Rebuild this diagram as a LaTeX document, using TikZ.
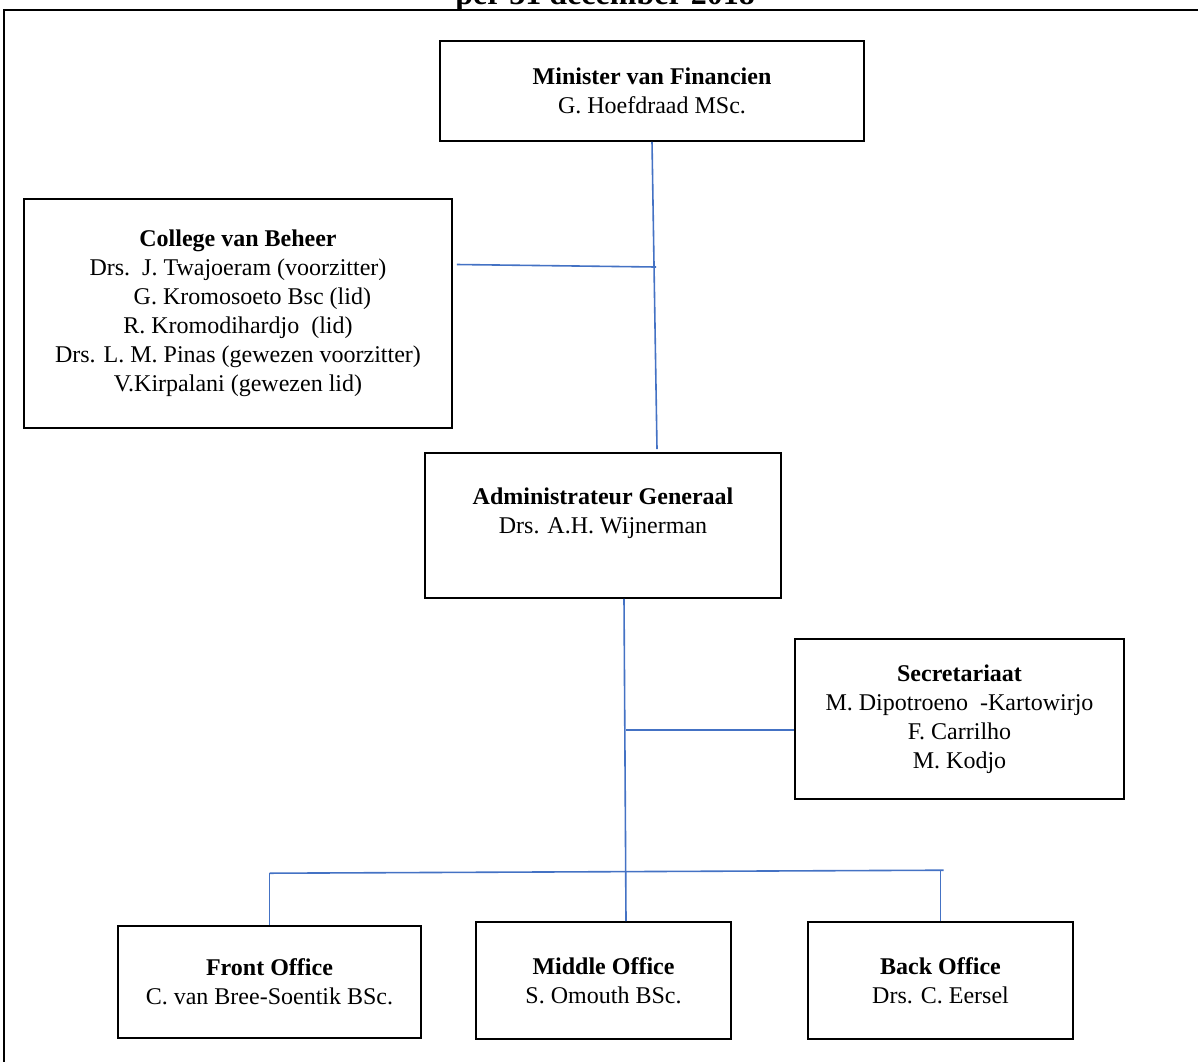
\documentclass[tikz,border=0pt]{standalone}
\usepackage{fontspec}
\setmainfont{Liberation Serif}
\usepackage{xcolor}
\definecolor{linkblue}{HTML}{4472C4}

\begin{document}
\begin{tikzpicture}[
  x=0.5pt, y=-0.5pt,
  every node/.style={align=center, font=\fontsize{12}{14.5}\selectfont},
  unit/.style={draw, line width=0.8pt, inner sep=0pt},
  link/.style={draw=linkblue, line width=0.8pt}
]
\useasboundingbox (0,0) rectangle (1198,1061);
\draw[line width=1.3pt] (4,1100) -- (4,10) -- (1260,10);
\node[anchor=base, font=\bfseries\fontsize{16}{19}\selectfont] (title) at (605,4) {per 31 december 2018};

\node[unit, minimum width=212pt, minimum height=50pt] (minister) at (652,91)
  {\textbf{Minister van Financien}\\G. Hoefdraad MSc.};
\node[unit, minimum width=214pt, minimum height=114.5pt] (college) at (238,313.5)
  {\textbf{College van Beheer}\\Drs.\ \ J. Twajoeram (voorzitter)\\
   \hspace{1.2em}G. Kromosoeto Bsc (lid)\\R. Kromodihardjo\ \ (lid)\\
   Drs. L. M. Pinas (gewezen voorzitter)\\V.Kirpalani (gewezen lid)};
\node[unit, minimum width=178pt, minimum height=72.5pt] (admin) at (603,525.5) {};
\node (admintext) at (603,513)
  {\textbf{Administrateur Generaal}\\Drs. A.H. Wijnerman};
\node[unit, minimum width=164.5pt, minimum height=80pt] (secr) at (959.5,719)
  {\textbf{Secretariaat}\\M. Dipotroeno\ \ -Kartowirjo\\F. Carrilho\\M. Kodjo};
\node[unit, minimum width=151.5pt, minimum height=56pt] (front) at (269.5,982)
  {\textbf{Front Office}\\C. van Bree-Soentik BSc.};
\node[unit, minimum width=127.5pt, minimum height=58.5pt] (middle) at (603.5,980.5)
  {\textbf{Middle Office}\\S. Omouth BSc.};
\node[unit, minimum width=132.5pt, minimum height=58.5pt] (back) at (940.5,980.5)
  {\textbf{Back Office}\\Drs. C. Eersel};

% connectors
\coordinate (cj) at (656,267);
\coordinate (sj) at (626,730);
\draw[link] (minister.south) -- ([xshift=27pt,yshift=1.5pt]admin.north);
\draw[link] ([xshift=2pt,yshift=24.5pt]college.east) -- (cj);
\draw[link] ([xshift=10.5pt]admin.south) -- ([xshift=11.25pt]middle.north);
\draw[link] (sj) -- ([yshift=-5.5pt]secr.west);
\draw[link] (front.north) -- ++(0,-52) coordinate (fj);
\draw[link] (back.north) -- ++(0,-51) coordinate (bj);
\draw[link] (fj) -- ([xshift=1.5pt]bj);
\end{tikzpicture}
\end{document}
